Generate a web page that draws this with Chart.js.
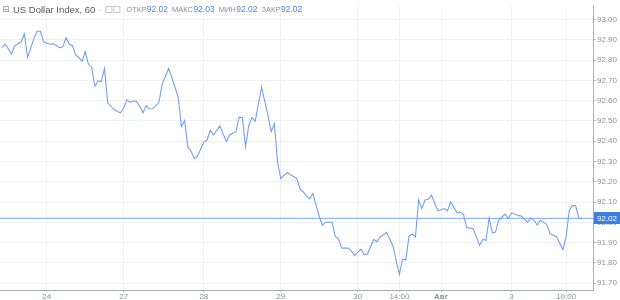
<!DOCTYPE html>
<html>
<head>
<meta charset="utf-8">
<script src="https://cdn.jsdelivr.net/npm/chart.js@4.4.1/dist/chart.umd.min.js"></script>
<style>
  html, body { margin: 0; padding: 0; background: #fff; }
  #wrap { width: 620px; height: 300px; }
</style>
</head>
<body>
<div id="wrap"><canvas id="chart-dxy" width="620" height="300"></canvas></div>
<script>
// hourly bar index (from the first bar) and close values
const hours = [
  0, 1, 3, 4, 6, 7, 8, 10, 11, 12, 13, 14, 15, 16, 18, 19, 20, 21, 22, 23,
  24, 25, 26, 27, 28, 29, 30, 31, 32, 33, 35, 36, 37, 38, 39, 40, 41, 42, 43, 44,
  45, 46, 47, 48, 49, 50, 52, 53, 55, 56, 57, 58, 59, 60, 61, 63, 64, 65, 66, 68,
  70, 71, 73, 74, 75, 76, 77, 78, 79, 81, 83, 84, 85, 86, 87, 89, 90, 92, 93, 94,
  95, 96, 97, 99, 100, 101, 103, 104, 105, 106, 108, 109, 110, 111, 112, 113, 114, 116, 117, 118,
  120, 122, 123, 124, 125, 126, 127, 128, 129, 130, 131, 132, 133, 134, 136, 138, 139, 140, 142, 143,
  144, 145, 147, 149, 150, 151, 152, 153, 154, 155, 157, 158, 159, 161, 162, 164, 165, 166, 167, 168,
  170, 171, 173, 175, 176, 177, 178, 179, 180, 181
];
const closes = [
  92.861, 92.879, 92.831, 92.870, 92.890, 92.929, 92.813, 92.907, 92.942, 92.942,
  92.890, 92.883, 92.878, 92.881, 92.861, 92.865, 92.910, 92.878, 92.871, 92.826,
  92.813, 92.794, 92.842, 92.778, 92.765, 92.671, 92.698, 92.694, 92.758, 92.588,
  92.556, 92.547, 92.540, 92.565, 92.604, 92.593, 92.598, 92.596, 92.572, 92.540,
  92.576, 92.559, 92.560, 92.576, 92.593, 92.681, 92.758, 92.714, 92.617, 92.472,
  92.502, 92.372, 92.351, 92.314, 92.327, 92.396, 92.406, 92.454, 92.431, 92.476,
  92.398, 92.430, 92.448, 92.519, 92.517, 92.372, 92.478, 92.517, 92.498, 92.665,
  92.527, 92.448, 92.486, 92.295, 92.217, 92.246, 92.235, 92.217, 92.165, 92.150,
  92.130, 92.116, 92.142, 92.029, 91.986, 92.001, 92.001, 91.930, 91.920, 91.873,
  91.874, 91.860, 91.836, 91.852, 91.868, 91.841, 91.843, 91.916, 91.905, 91.928,
  91.951, 91.884, 91.812, 91.744, 91.820, 91.815, 91.932, 91.943, 91.928, 92.110,
  92.068, 92.110, 92.114, 92.134, 92.057, 92.068, 92.057, 92.101, 92.047, 92.051,
  92.039, 91.974, 91.970, 91.886, 91.916, 91.912, 92.021, 91.948, 91.952, 92.013,
  92.041, 92.019, 92.047, 92.034, 92.031, 92.000, 92.021, 92.010, 91.987, 92.011,
  91.989, 91.944, 91.929, 91.866, 91.928, 92.058, 92.084, 92.082, 92.020, 92.020
];
const tickHours = [14, 38, 63, 87, 111, 124, 137, 159, 176];
const tickLabels = ['24', '27', '28', '29', '30', '14:00', 'Авг', '3', '10:00'];
const yTicks = [91.7, 91.8, 91.9, 92.0, 92.1, 92.2, 92.3, 92.4, 92.5, 92.6, 92.7, 92.8, 92.9, 93.0];
const lastClose = 92.02;
const title = 'US Dollar Index, 60';
const ohlcNames = ['ОТКР', 'МАКС', 'МИН', 'ЗАКР'];
const ohlcValues = [92.02, 92.03, 92.02, 92.02];

const X_MIN = -0.6, X_MAX = 184.4;
const FONT = "'Liberation Sans', Arial, sans-serif";
const lineBlue = '#75a1e9';
const gridColor = '#eef0f4';
const tickGray = '#8c9098';

const headerPlugin = {
  id: 'header',
  afterDraw(chart) {
    const ctx = chart.ctx;
    const yScale = chart.scales.y;
    ctx.save();
    // last price tag on the price axis
    const py = Math.round(yScale.getPixelForValue(lastClose));
    ctx.fillStyle = '#3d7fe0';
    ctx.fillRect(yScale.left + 1, py - 6, yScale.right - yScale.left - 1, 12);
    ctx.fillStyle = '#fff';
    ctx.font = '8px ' + FONT;
    ctx.textBaseline = 'middle';
    ctx.textAlign = 'left';
    ctx.fillText(lastClose.toFixed(2), yScale.left + 4, py + 0.5);

    // title row
    ctx.fillStyle = '#8a8f98';
    ctx.font = '9px DejaVu Sans';
    ctx.fillText('⊟', 2, 10);
    ctx.fillStyle = '#55585e';
    ctx.font = '9.5px ' + FONT;
    ctx.fillText(title, 13, 10);
    let x = 13 + ctx.measureText(title).width + 3;
    ctx.fillStyle = '#b0b4ba';
    ctx.fillText('·', x, 10);
    ctx.strokeStyle = '#c4c7cc';
    ctx.lineWidth = 1;
    ctx.strokeRect(x + 7.5, 6.5, 6, 6);
    ctx.strokeRect(x + 15.5, 6.5, 6, 6);
    x += 28;
    ohlcNames.forEach((n, i) => {
      ctx.fillStyle = '#8a8f98';
      ctx.font = '7.5px ' + FONT;
      ctx.fillText(n, x, 10);
      x += ctx.measureText(n).width + 0.5;
      ctx.fillStyle = '#4a86e0';
      ctx.font = '8.5px ' + FONT;
      const s = ohlcValues[i].toFixed(2);
      ctx.fillText(s, x, 10);
      x += ctx.measureText(s).width + 4;
    });
    ctx.restore();
  }
};

const chartDxy = new Chart(document.getElementById('chart-dxy').getContext('2d'), {
  type: 'line',
  data: {
    datasets: [{
      data: hours.map((h, i) => ({ x: h, y: closes[i] })),
      borderColor: lineBlue,
      borderWidth: 1.1,
      pointRadius: 0,
      tension: 0
    }, {
      data: [{ x: X_MIN, y: lastClose }, { x: X_MAX, y: lastClose }],
      borderColor: '#7aa6ea',
      borderWidth: 1,
      pointRadius: 0
    }]
  },
  options: {
    responsive: false,
    animation: false,
    layout: { padding: 0 },
    plugins: { legend: { display: false }, tooltip: { enabled: false } },
    scales: {
      x: {
        type: 'linear',
        min: X_MIN,
        max: X_MAX,
        afterBuildTicks: s => { s.ticks = tickHours.map(v => ({ value: v })); },
        afterFit: s => { s.height = 10; },
        ticks: {
          autoSkip: false,
          maxRotation: 0,
          padding: 0,
          color: tickGray,
          font: ctx => ({ family: FONT, size: 8, weight: tickLabels[ctx.index] === 'Авг' ? 'bold' : 'normal' }),
          callback: (v, i) => tickLabels[i]
        },
        grid: { color: gridColor, tickLength: 2, tickColor: '#b8bcc2' },
        border: { color: '#a8acb3' }
      },
      y: {
        position: 'right',
        min: 91.6667,
        max: 93.0676,
        afterBuildTicks: s => { s.ticks = yTicks.map(v => ({ value: v })); },
        afterFit: s => { s.width = 27; },
        ticks: {
          padding: 1,
          color: tickGray,
          font: { family: FONT, size: 8 },
          callback: v => v.toFixed(2)
        },
        grid: { color: gridColor, tickLength: 3, tickColor: '#b8bcc2' },
        border: { color: '#a8acb3' }
      }
    }
  },
  plugins: [headerPlugin]
}); /* <-- End 'chartDxy' */
</script>
</body>
</html>
